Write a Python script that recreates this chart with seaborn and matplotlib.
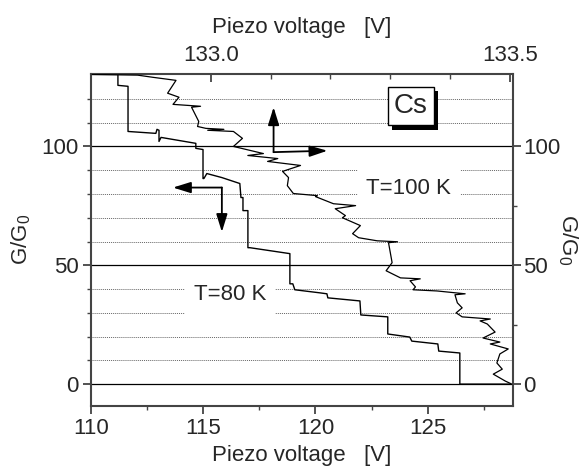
import matplotlib
matplotlib.use("Agg")
import numpy as np
import pandas as pd
import matplotlib.pyplot as plt
import matplotlib.patheffects as pe
from matplotlib.ticker import FixedLocator, MultipleLocator
import seaborn as sns

# T = 80 K trace (bottom axis: piezo voltage, left axis: G/G0)
v80 = [110.00, 111.20, 111.20, 111.65, 111.65, 112.89, 112.94, 113.03, 113.03, 113.12,
       114.67, 114.67, 114.99, 114.99, 115.03, 115.16, 115.83, 116.63, 116.68, 116.77,
       116.77, 116.99, 116.99, 117.08, 118.86, 118.86, 118.99, 119.08, 120.20, 120.51,
       120.55, 121.98, 122.02, 123.22, 123.22, 124.20, 124.29, 125.45, 125.49, 126.43,
       126.43, 128.66]
g80 = [130.3, 130.3, 125.7, 125.3, 106.3, 105.5, 107.2, 106.8, 102.1, 103.8,
       101.3, 99.2, 98.7, 86.5, 86.5, 88.6, 86.9, 84.4, 78.5, 78.5,
       73.0, 73.0, 57.4, 57.4, 54.9, 42.2, 42.2, 39.7, 38.4, 38.0,
       36.3, 35.0, 29.1, 28.3, 21.1, 19.8, 18.1, 16.9, 13.9, 13.1,
       0.0, 0.0]

# T = 100 K trace (top axis: piezo voltage, right axis: G/G0)
v100 = [132.802, 132.878, 132.903, 132.942, 132.928, 132.947, 132.937, 132.983, 132.968, 132.980,
        132.978, 132.992, 133.022, 132.995, 133.038, 133.053, 133.038, 133.088, 133.062, 133.112,
        133.095, 133.150, 133.120, 133.130, 133.128, 133.138, 133.178, 133.175, 133.205, 133.242,
        133.208, 133.225, 133.220, 133.250, 133.237, 133.247, 133.278, 133.312, 133.297, 133.300,
        133.303, 133.293, 133.317, 133.350, 133.333, 133.342, 133.338, 133.378, 133.425, 133.408,
        133.412, 133.420, 133.410, 133.420, 133.467, 133.450, 133.462, 133.475, 133.455, 133.483,
        133.467, 133.497, 133.483, 133.478, 133.487, 133.472, 133.492, 133.503]
g100 = [130.3, 130.0, 129.1, 127.8, 122.4, 120.7, 117.7, 116.9, 116.5, 110.5,
        108.4, 107.6, 107.2, 106.8, 106.3, 103.4, 100.0, 97.0, 96.2, 94.9,
        93.7, 92.0, 89.5, 86.9, 83.5, 80.2, 79.3, 78.9, 75.9, 75.1,
        73.8, 70.9, 70.0, 66.7, 63.3, 61.6, 60.3, 59.9, 59.5, 55.3,
        51.1, 47.7, 44.7, 44.3, 43.5, 40.9, 39.7, 39.2, 38.0, 37.6,
        34.2, 32.1, 30.0, 28.3, 27.4, 26.6, 25.3, 21.9, 19.4, 17.7,
        16.9, 14.8, 12.7, 8.9, 6.3, 4.2, 1.3, 0.0]

# arrows: (origin, tips) for each trace
arrow80_origin = (115.83, 82.7)
arrow80_left = (113.65, 82.7)
arrow80_down = (115.83, 64.0)
arrow100_origin = (133.105, 97.6)
arrow100_up = (133.105, 116.5)
arrow100_right = (133.195, 98.2)

sns.set_style("ticks")
plt.rcParams["font.family"] = ["Liberation Sans", "DejaVu Sans"]
plt.rcParams["mathtext.default"] = "regular"

spine_col = "#444444"

fig = plt.figure(figsize=(5.87, 4.68), dpi=100)
rect = [0.155, 0.1335, 0.719, 0.7085]
ax = fig.add_axes(rect)
ax2 = fig.add_axes(rect, frameon=False)

df80 = pd.DataFrame({"V": v80, "G": g80})
df100 = pd.DataFrame({"V": v100, "G": g100})
sns.lineplot(data=df80, x="V", y="G", sort=False, estimator=None, color="k", lw=1.0, ax=ax)
sns.lineplot(data=df100, x="V", y="G", sort=False, estimator=None, color="k", lw=0.9, ax=ax2)

ylim = (-9, 130.5)
ax.set_xlim(110, 128.8)
ax.set_ylim(*ylim)
ax2.set_xlim(132.80, 133.505)
ax2.set_ylim(*ylim)

# bottom / left axes
ax.xaxis.set_major_locator(MultipleLocator(5))
ax.xaxis.set_minor_locator(MultipleLocator(2.5))
ax.yaxis.set_major_locator(FixedLocator([0, 50, 100]))
ax.yaxis.set_minor_locator(FixedLocator([10, 20, 30, 40, 60, 70, 80, 90, 110, 120]))
ax.tick_params(which="major", direction="out", length=6, width=1.3, color=spine_col,
               labelsize=16, pad=3)
ax.tick_params(which="minor", direction="out", length=3, width=1.0, color=spine_col)
ax.grid(which="major", axis="y", color="k", lw=0.9, ls="-")
ax.grid(which="minor", axis="y", color="#666666", lw=0.7, ls=(0, (1, 1)))
ax.grid(which="major", axis="x", visible=False)
ax.set_axisbelow(True)
for s in ax.spines.values():
    s.set_color(spine_col)
    s.set_linewidth(1.5)
ax.set_xlabel("Piezo voltage   [V]", fontsize=16, labelpad=4)
ax.set_ylabel("G/G$_0$", fontsize=16, labelpad=6)

# top / right axes
ax2.xaxis.tick_top()
ax2.xaxis.set_label_position("top")
ax2.yaxis.tick_right()
ax2.yaxis.set_label_position("right")
ax2.xaxis.set_major_locator(FixedLocator([133.0, 133.5]))
ax2.xaxis.set_minor_locator(FixedLocator([133.1, 133.2, 133.3, 133.4]))
ax2.yaxis.set_major_locator(FixedLocator([0, 50, 100]))
ax2.yaxis.set_minor_locator(FixedLocator([25, 75]))
ax2.xaxis.set_major_formatter(plt.FormatStrFormatter("%.1f"))
ax2.tick_params(axis="x", which="major", direction="in", length=6, width=1.3,
                color=spine_col, labelsize=16, pad=6)
ax2.tick_params(axis="x", which="minor", direction="in", length=3.5, width=1.0, color=spine_col)
ax2.tick_params(axis="y", which="major", direction="out", length=6, width=1.3,
                color=spine_col, labelsize=16, pad=1)
ax2.tick_params(axis="y", which="minor", direction="out", length=3, width=1.0, color=spine_col)
ax2.set_xlabel("Piezo voltage   [V]", fontsize=16, labelpad=8)
ax2.set_ylabel("G/G$_0$", fontsize=16, rotation=270, labelpad=14)

# arrows
arrow_kw = dict(arrowstyle="-|>,head_length=0.9,head_width=0.28", color="k", lw=1.3,
                shrinkA=0, shrinkB=0, mutation_scale=12)
for tip in (arrow80_left, arrow80_down):
    ax.annotate("", xy=tip, xytext=arrow80_origin, arrowprops=arrow_kw)
for tip in (arrow100_up, arrow100_right):
    ax2.annotate("", xy=tip, xytext=arrow100_origin, arrowprops=arrow_kw)

# labels
ax.text(124.16, 82.3, "T=100 K", fontsize=16, ha="center", va="center",
        bbox=dict(boxstyle="square,pad=0.4", fc="white", ec="none"))
ax.text(116.19, 37.6, "T=80 K", fontsize=16, ha="center", va="center",
        bbox=dict(boxstyle="square,pad=0.4", fc="white", ec="none"))
cs = ax.text(124.25, 116.9, "Cs", fontsize=20, ha="center", va="center", zorder=5,
             bbox=dict(boxstyle="square,pad=0.22", fc="white", ec="k", lw=1.0))
cs.get_bbox_patch().set_path_effects([
    pe.withSimplePatchShadow(offset=(3, -3), shadow_rgbFace="k", alpha=1.0)])

fig.savefig("out.png", dpi=100)
